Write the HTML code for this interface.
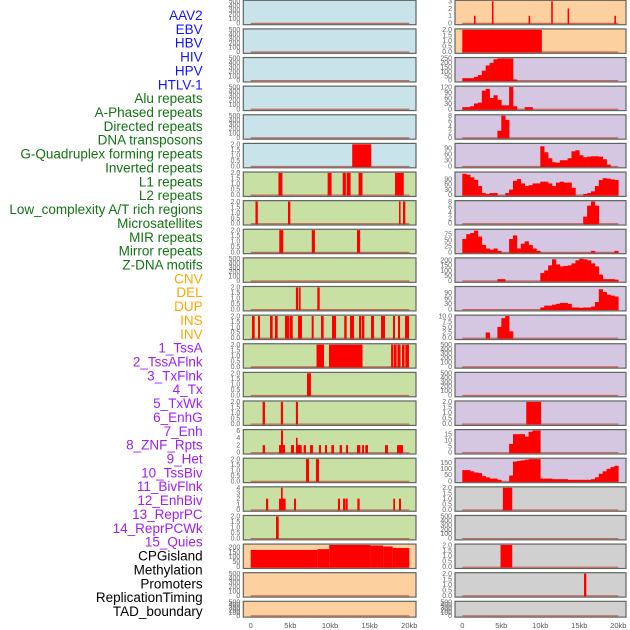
<!DOCTYPE html>
<html><head><meta charset="utf-8"><style>
html,body{margin:0;padding:0;background:#fff;width:630px;height:630px;overflow:hidden}
svg{display:block;font-family:"Liberation Sans",sans-serif}
</style></head><body>
<svg id="chart" width="630" height="630" viewBox="0 0 630 630">
<g id="labels"></g>
<g id="panels"></g>
<g id="xaxes"></g>
</svg>
<script>
// ---------- labels ----------
const trackLabels = ["AAV2","EBV","HBV","HIV","HPV","HTLV-1","Alu repeats","A-Phased repeats","Directed repeats","DNA transposons","G-Quadruplex forming repeats","Inverted repeats","L1 repeats","L2 repeats","Low_complexity A/T rich regions","Microsatellites","MIR repeats","Mirror repeats","Z-DNA motifs","CNV","DEL","DUP","INS","INV","1_TssA","2_TssAFlnk","3_TxFlnk","4_Tx","5_TxWk","6_EnhG","7_Enh","8_ZNF_Rpts","9_Het","10_TssBiv","11_BivFlnk","12_EnhBiv","13_ReprPC","14_ReprPCWk","15_Quies","CPGisland","Methylation","Promoters","ReplicationTiming","TAD_boundary"];
const labelGroups = [6,13,5,15,5];
const groupColors = ["#1414ff","#137313","#ffa500","#a020f0","#000000"];
const xTickLabels = ["0","5kb","10kb","15kb","20kb"];
const xTickValues = [0,5,10,15,20];

// ---------- left column data: [startKb, endKb, value] ----------
const leftBg = ["#c9e3ea","#c9e3ea","#c9e3ea","#c9e3ea","#c9e3ea","#c9e3ea","#c8e0a4","#c8e0a4","#c8e0a4","#c8e0a4","#c8e0a4","#c8e0a4","#c8e0a4","#c8e0a4","#c8e0a4","#c8e0a4","#c8e0a4","#c8e0a4","#c8e0a4","#fdd0a0","#fdd0a0","#fdd0a0"];
const leftMax = [500,500,500,500,500,2,2,2,2,500,2,2,2,2,2,6,2,4,2,220,500,500];
const leftTicks = [
 ["0","100","200","300","400","500"],["0","100","200","300","400","500"],["0","100","200","300","400","500"],["0","100","200","300","400","500"],["0","100","200","300","400","500"],
 ["0.0","0.5","1.0","1.5","2.0"],["0.0","0.5","1.0","1.5","2.0"],["0.0","0.5","1.0","1.5","2.0"],["0.0","0.5","1.0","1.5","2.0"],
 ["0","100","200","300","400","500"],
 ["0.0","0.5","1.0","1.5","2.0"],["0.0","0.5","1.0","1.5","2.0"],["0.0","0.5","1.0","1.5","2.0"],["0.0","0.5","1.0","1.5","2.0"],["0.0","0.5","1.0","1.5","2.0"],
 ["0","2","4","6"],["0.0","0.5","1.0","1.5","2.0"],["0","1","2","3","4"],["0.0","0.5","1.0","1.5","2.0"],
 ["0","50","100","150","200"],["0","100","200","300","400","500"],["0","100","200","300","400","500"]];
const L5 = [[12.8,15.2,2]];
const L6 = [[3.5,4.0,2],[9.7,10.2,2],[11.6,12.0,2],[12.1,12.6,2],[13.6,14.1,2],[18.2,19.3,2]];
const L7 = [[0.6,0.9,2],[4.7,5.0,2],[18.7,18.9,2],[19.2,19.5,2]];
const L8 = [[3.6,4.1,2],[7.7,8.1,2],[13.4,13.8,2]];
const L10 = [[5.7,6.0,2],[6.1,6.3,2],[8.4,8.7,2]];
const L11 = [[0.16,0.5,2],[0.92,1.17,2],[2.43,2.77,2],[3.06,3.4,2],[4.32,4.83,2],[4.9,5.3,2],[5.96,6.47,2],[7.69,7.94,2],[8.87,9.2,2],[10.25,10.76,2],[11.8,12.1,2],[12.52,13.03,2],[13.66,13.95,2],[14.04,14.33,2],[15.17,15.55,2],[16.43,16.94,2],[17.94,18.2,2],[18.57,18.83,2],[19.46,19.96,2]];
const L12 = [[8.3,9.25,2],[9.87,14.1,2],[17.7,18.0,2],[18.07,18.4,2],[18.5,18.9,2],[19.08,19.4,2],[19.5,19.96,2]];
const L13 = [[7.1,7.6,2]];
const L14 = [[1.5,1.8,2],[3.8,4.07,2],[5.7,5.96,2]];
const L15 = [[1.51,1.8,2],[3.57,4.33,2],[3.82,4.07,6],[5.08,5.46,2],[5.71,6.43,2],[5.71,5.92,4],[6.68,6.97,2],[7.48,7.85,2],[8.61,8.86,2],[9.37,9.62,2],[10.17,10.5,2],[11.22,11.51,2],[12.02,12.27,2],[13.4,13.83,2],[14.04,14.29,2],[14.45,14.79,2],[16.94,17.31,2],[18.45,19.21,2]];
const L16 = [[6.97,7.35,2],[8.23,8.61,2]];
const L17 = [[1.93,2.2,2],[3.57,4.41,2],[3.82,4.03,4],[5.46,5.71,2],[11.0,11.26,2],[11.64,11.93,2],[11.98,12.23,2],[13.45,13.74,2],[17.98,18.2,2],[18.7,18.95,2]];
const L18 = [[3.19,3.53,2]];
const L19 = [[0,8.4,170],[8.4,9.9,178],[9.9,15.1,220],[15.1,16.7,215],[16.7,17.9,205],[17.9,20,190]];
const leftSegs = [[],[],[],[],[],L5,L6,L7,L8,[],L10,L11,L12,L13,L14,L15,L16,L17,L18,L19,[],[]];

// ---------- right column data ----------
const rightBg = ["#fdd0a0","#fdd0a0","#d5c6e1","#d5c6e1","#d5c6e1","#d5c6e1","#d5c6e1","#d5c6e1","#d5c6e1","#d5c6e1","#d5c6e1","#d5c6e1","#d5c6e1","#d5c6e1","#d5c6e1","#d5c6e1","#d5c6e1","#d0d0d0","#d0d0d0","#d0d0d0","#d0d0d0","#d0d0d0"];
const rightMax = [3,2,250,120,8,110,125,8,92,215,120,10,500,500,2,18,180,2,500,2,2,500];
const rightTicks = [
 ["0","1","2","3"],["0.0","0.5","1.0","1.5","2.0"],["0","50","100","150","200","250"],["0","30","60","90","120"],["0","2","4","6","8"],
 ["0","30","60","90"],["0","30","60","90"],["0","2","4","6","8"],["0","25","50","75"],["0","50","100","150","200"],["0","30","60","90"],
 ["0.0","2.5","5.0","7.5","10.0"],["0","100","200","300","400","500"],["0","100","200","300","400","500"],["0.0","0.5","1.0","1.5","2.0"],
 ["0","5","10","15"],["0","50","100","150"],["0.0","0.5","1.0","1.5","2.0"],["0","100","200","300","400","500"],
 ["0.0","0.5","1.0","1.5","2.0"],["0.0","0.5","1.0","1.5","2.0"],["0","100","200","300","400","500"]];
const tickValuesR = [[0,1,2,3],null,null,null,null,[0,30,60,90],[0,30,60,90],null,[0,25,50,75],[0,50,100,150,200],[0,30,60,90],null,null,null,null,[0,5,10,15],[0,50,100,150],null,null,null,null,null];
const tickValuesL = [null,null,null,null,null,null,null,null,null,null,null,null,null,null,null,[0,2,4,6],null,null,null,[0,50,100,150,200],null,null];
const R0 = [[1.5,1.7,1],[3.8,4.0,3],[8.5,8.7,1],[11.4,11.6,3],[13.5,13.7,2],[19.5,19.7,1]];
const R1 = [[0,10.2,2]];
const R14 = [[8.2,10.1,2]];
const R17 = [[5.2,6.4,2]];
const R19 = [[4.9,6.4,2]];
const R20 = [[15.6,15.9,2]];
// 0.5 kb bins (40 per panel)
const R2 = [25,25,25,40,60,110,170,200,240,250,250,250,250,10,0,0,0,0,0,0,0,0,0,0,0,0,0,0,0,0,0,0,0,0,0,0,0,0,0,0];
const R3 = [10,10,15,30,35,100,110,60,75,50,20,20,120,15,0,0,10,10,0,0,0,0,0,0,0,0,0,0,0,0,0,0,0,0,0,0,0,0,0,0];
const R4 = [0,0,0,0,0,0,0,0,0,2.5,8,6.5,0,0,0,0,0,0,0,0,0,0,0,0,0,0,0,0,0,0,0,0,0,0,0,0,0,0,0,0];
const R5 = [0,0,0,0,0,0,0,0,0,0,0,0,0,0,0,0,0,0,0,0,100,70,40,20,18,30,30,40,75,80,55,45,48,50,50,48,35,8,0,0];
const R6 = [120,115,100,85,50,10,5,10,10,0,0,10,30,80,90,65,50,55,65,65,75,75,65,50,70,75,70,70,40,0,0,5,10,20,50,85,95,92,88,85];
const R7 = [0,0,0,0,0,0,0,0,0,0,0,0,0,0,0,0,0,0,0,0,0,0,0,0,0,0,0,0,0,0,0,2.5,6.5,8,6.5,0,0,0,0,0];
const R8 = [55,75,80,90,65,30,15,10,15,5,0,0,55,70,15,35,45,30,15,5,0,0,0,0,0,0,0,0,0,0,0,0,0,5,0,0,0,0,0,5];
const R9 = [0,0,0,0,0,0,0,0,0,15,15,0,0,0,0,0,0,0,0,0,75,100,150,210,160,140,145,150,170,200,215,210,200,170,140,60,15,15,15,10];
const R10 = [0,0,0,0,0,0,0,0,0,0,0,0,0,0,0,0,0,0,0,0,10,20,20,25,30,35,35,30,10,10,8,10,10,15,40,110,95,80,75,70];
const R11 = [0,0,0,0,0,0,2.5,0,0,5,9,10,3,0,0,0,0,0,0,0,0,0,0,0,0,0,0,0,0,0,0,0,0,0,0,0,0,0,0,0];
const R15 = [0,0,0,0,0,0,0,0,0,0,0,0,7,15,15,15,13,17,18,18,0,0,0,0,0,0,0,0,0,0,0,0,0,0,0,0,0,0,0,0];
const R16 = [90,90,80,70,65,40,30,20,20,10,0,0,45,160,165,170,175,180,180,180,20,20,20,15,15,15,15,10,10,10,10,10,10,15,30,60,80,100,115,125];
const rightSegs = [R0,R1,[],[],[],[],[],[],[],[],[],[],[],[],R14,[],[],R17,[],R19,R20,[]];
const rightBins = [null,null,R2,R3,R4,R5,R6,R7,R8,R9,R10,R11,null,null,null,R15,R16,null,null,null,null,null];

// ---------- geometry ----------
const NS = "http://www.w3.org/2000/svg";
const ROWS = 22, PITCH = 28.62, H = 24.4;
const cols = [
  {x0:243.3, x1:416, zero:250.7, perKb:7.93, bg:leftBg, max:leftMax, ticks:leftTicks, tv:tickValuesL, segs:leftSegs, bins:null, name:'left'},
  {x0:455, x1:626, zero:462.3, perKb:7.8, bg:rightBg, max:rightMax, ticks:rightTicks, tv:tickValuesR, segs:rightSegs, bins:rightBins, name:'right'}
];
function mk(tag, attrs, parent){const e=document.createElementNS(NS,tag);for(const k in attrs)e.setAttribute(k,attrs[k]);parent.appendChild(e);return e;}

// labels
const lg = document.getElementById('labels');
let li = 0;
labelGroups.forEach((n,g)=>{
  for(let k=0;k<n;k++){
    const t = mk('text',{x:202.7,y:(20+li*13.86).toFixed(2),'text-anchor':'end','font-size':'13.5',fill:groupColors[g]},lg);
    t.textContent = trackLabels[li];
    
    
    li++;
  }
});

const pg = document.getElementById('panels');
cols.forEach(c=>{
  const xs = kb => c.zero + kb*c.perKb;
  for(let r=0;r<ROWS;r++){
    const top = r*PITCH + 0.3;
    const h = r===ROWS-1 ? 15.8 : H;
    const y0 = top + h - 1.6, yt = top + 0.9;
    const ymax = c.max[r];
    const ys = v => y0 - v/ymax*(y0-yt);
    const g = mk('g',{},pg);
    
    
    const bgR = mk('rect',{x:c.x0,y:top,width:c.x1-c.x0,height:h,fill:c.bg[r]},g);
    
    
    // baseline
    const bl = mk('line',{x1:xs(0),x2:xs(20),y1:y0+0.3,y2:y0+0.3,stroke:'#c0392b','stroke-opacity':'0.7','stroke-width':'1.2'},g);
    
    
    const segs = c.segs[r] || [];
    segs.forEach(s=>{
      const rc = mk('rect',{x:xs(s[0]).toFixed(2),y:ys(s[2]).toFixed(2),width:Math.max(1.2,xs(s[1])-xs(s[0])).toFixed(2),height:(y0-ys(s[2])+0.8).toFixed(2),fill:'#ff0000'},g);
      
      
    });
    const bins = c.bins ? c.bins[r] : null;
    if(bins){
      bins.forEach((v,i)=>{
        if(v<=0) return;
        const rc = mk('rect',{x:xs(i*0.5).toFixed(2),y:ys(v).toFixed(2),width:(xs((i+1)*0.5)-xs(i*0.5)+0.3).toFixed(2),height:(y0-ys(v)+0.8).toFixed(2),fill:'#ff0000'},g);
        
        
      });
    }
    const fr = mk('rect',{x:c.x0,y:top,width:c.x1-c.x0,height:h,fill:'none',stroke:'#5e6560','stroke-width':'1.2'},g);
    
    
    // y ticks
    const labs = c.ticks[r];
    const vals = c.tv[r];
    labs.forEach((lab,i)=>{
      const v = vals ? vals[i] : (i/(labs.length-1))*ymax;
      const t = mk('text',{x:c.x0-3,y:(ys(v)+2.3).toFixed(2),'text-anchor':'end','font-size':'7',fill:'#666'},g);
      t.textContent = lab;
      
      
    });
  }
  const xg = document.getElementById('xaxes');
  xTickValues.forEach((v,i)=>{
    const t = mk('text',{x:xs(v).toFixed(2),y:628,'text-anchor':'middle','font-size':'7.5',fill:'#555'},xg);
    t.textContent = xTickLabels[i];
    
    
  });
});
</script>
</body></html>
